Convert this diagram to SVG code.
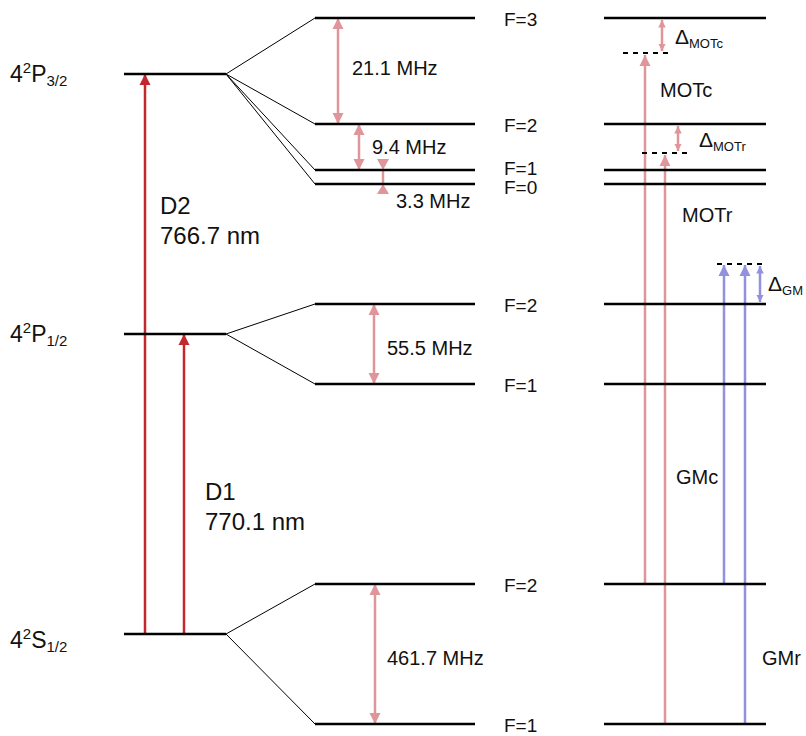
<svg xmlns="http://www.w3.org/2000/svg" width="806" height="736" viewBox="0 0 806 736">
<style>
text{font-family:"Liberation Sans",Arial,sans-serif;fill:#111;}
.lvl{stroke:#000;stroke-width:2.5;fill:none;}
.thin{stroke:#000;stroke-width:1;fill:none;}
.d{stroke:#c1272d;stroke-width:2.5;fill:none;}
.p{stroke:#e0959a;stroke-width:2.5;fill:none;}
.pf{fill:#e0959a;}
.b{stroke:#9191df;stroke-width:2.5;fill:none;}
.dash{stroke:#000;stroke-width:2;stroke-dasharray:5 5;fill:none;}
.big{font-size:23px;}
.lab{font-size:24px;}
.med{font-size:20px;}
.f{font-size:19px;}
.sup{font-size:15px;}
.sub{font-size:13px;}
</style>
<defs>
<marker id="ad" viewBox="0 0 10 10" refX="10" refY="5" markerWidth="4.5" markerHeight="4.5" orient="auto" markerUnits="strokeWidth"><path d="M0,0 L10,5 L0,10 Z" fill="#c1272d"/></marker>
<marker id="ap" viewBox="0 0 10 10" refX="10" refY="5" markerWidth="4.5" markerHeight="4.5" orient="auto-start-reverse" markerUnits="strokeWidth"><path d="M0,0 L10,5 L0,10 Z" fill="#e0959a"/></marker>
<marker id="aps" viewBox="0 0 10 10" refX="10" refY="5" markerWidth="3" markerHeight="3" orient="auto-start-reverse" markerUnits="strokeWidth"><path d="M0,0 L10,5 L0,10 Z" fill="#e0959a"/></marker>
<marker id="ab" viewBox="0 0 10 10" refX="10" refY="5" markerWidth="4.5" markerHeight="4.5" orient="auto-start-reverse" markerUnits="strokeWidth"><path d="M0,0 L10,5 L0,10 Z" fill="#9191df"/></marker>
<marker id="abs" viewBox="0 0 10 10" refX="10" refY="5" markerWidth="3" markerHeight="3" orient="auto-start-reverse" markerUnits="strokeWidth"><path d="M0,0 L10,5 L0,10 Z" fill="#9191df"/></marker>
</defs>

<g id="connectors">
<path class="thin" d="M226,74 L315,18 M226,74 L315,124 M226,74 L315,170 M226,74 L315,184"/>
<path class="thin" d="M226,334 L315,304 M226,334 L315,384"/>
<path class="thin" d="M226,634 L315,584 M226,634 L315,724"/>
<line class="d" x1="145" y1="634" x2="145" y2="74" marker-end="url(#ad)"/>
<line class="d" x1="184" y1="634" x2="184" y2="334" marker-end="url(#ad)"/>
<line class="p" x1="338" y1="18" x2="338" y2="124" marker-start="url(#ap)" marker-end="url(#ap)"/>
<line class="p" x1="359" y1="124" x2="359" y2="170" marker-start="url(#ap)" marker-end="url(#ap)"/>
<path class="pf" d="M377,159 L389,159 L383,170 Z"/>
<line class="p" x1="383" y1="170" x2="383" y2="184"/>
<path class="pf" d="M377,194 L389,194 L383,184 Z"/>
<line class="p" x1="374" y1="304" x2="374" y2="384" marker-start="url(#ap)" marker-end="url(#ap)"/>
<line class="p" x1="375" y1="584" x2="375" y2="724" marker-start="url(#ap)" marker-end="url(#ap)"/>
<line class="p" x1="645" y1="584" x2="645" y2="55" marker-end="url(#ap)"/>
<line class="p" x1="665" y1="724" x2="665" y2="155" marker-end="url(#ap)"/>
<line class="p" x1="662" y1="20" x2="662" y2="51" stroke-width="1.5" marker-start="url(#aps)" marker-end="url(#aps)"/>
<line class="p" x1="678" y1="126" x2="678" y2="151" stroke-width="1.5" marker-start="url(#aps)" marker-end="url(#aps)"/>
<line class="b" x1="724" y1="584" x2="724" y2="265" marker-end="url(#ab)"/>
<line class="b" x1="745" y1="724" x2="745" y2="265" marker-end="url(#ab)"/>
<line class="b" x1="760" y1="266" x2="760" y2="302" stroke-width="1.5" marker-start="url(#abs)" marker-end="url(#abs)"/>
<path class="dash" d="M623,53 L668,53"/>
<path class="dash" d="M642,153 L688,153"/>
<path class="dash" d="M717,264 L763,264"/>
</g>

<g id="fine-levels">
<path class="lvl" d="M124,74 H226"/>
<path class="lvl" d="M124,334 H226"/>
<path class="lvl" d="M124,634 H226"/>
</g>
<g id="hyperfine-levels">
<path class="lvl" d="M315,18 H475 M315,124 H475 M315,170 H475 M315,184 H475"/>
<path class="lvl" d="M315,304 H475 M315,384 H475"/>
<path class="lvl" d="M315,584 H475 M315,724 H475"/>
</g>
<g id="right-levels">
<path class="lvl" d="M604,18 H766 M604,124 H766 M604,170 H766 M604,184 H766"/>
<path class="lvl" d="M604,304 H766 M604,384 H766"/>
<path class="lvl" d="M604,584 H766 M604,724 H766"/>
</g>

<g id="labels">
<text x="10" y="82" class="big">4<tspan dy="-9" class="sup">2</tspan><tspan dy="9">P</tspan><tspan dy="4" class="sup">3/2</tspan></text>
<text x="10" y="342" class="big">4<tspan dy="-9" class="sup">2</tspan><tspan dy="9">P</tspan><tspan dy="4" class="sup">1/2</tspan></text>
<text x="10" y="648" class="big">4<tspan dy="-9" class="sup">2</tspan><tspan dy="9">S</tspan><tspan dy="4" class="sup">1/2</tspan></text>
<text x="160" y="214" class="lab">D2</text>
<text x="160" y="244" class="lab">766.7 nm</text>
<text x="205" y="500" class="lab">D1</text>
<text x="205" y="530" class="lab">770.1 nm</text>
<text x="352" y="75" class="med">21.1 MHz</text>
<text x="372" y="154" class="med">9.4 MHz</text>
<text x="396" y="208" class="med">3.3 MHz</text>
<text x="387" y="355" class="med">55.5 MHz</text>
<text x="387" y="665" class="med">461.7 MHz</text>
<text x="504" y="26" class="f">F=3</text>
<text x="504" y="132" class="f">F=2</text>
<text x="504" y="175" class="f">F=1</text>
<text x="504" y="194" class="f">F=0</text>
<text x="504" y="312" class="f">F=2</text>
<text x="504" y="392" class="f">F=1</text>
<text x="504" y="592" class="f">F=2</text>
<text x="504" y="732" class="f">F=1</text>
<text x="675" y="44" font-size="21">Δ<tspan dy="4" class="sub">MOTc</tspan></text>
<text x="699" y="147" font-size="21">Δ<tspan dy="4" class="sub">MOTr</tspan></text>
<text x="768" y="291" font-size="21">Δ<tspan dy="4" class="sub">GM</tspan></text>
<text x="660" y="97" class="med">MOTc</text>
<text x="682" y="222" class="med">MOTr</text>
<text x="676" y="484" class="med">GMc</text>
<text x="762" y="665" class="med">GMr</text>
</g>
</svg>
